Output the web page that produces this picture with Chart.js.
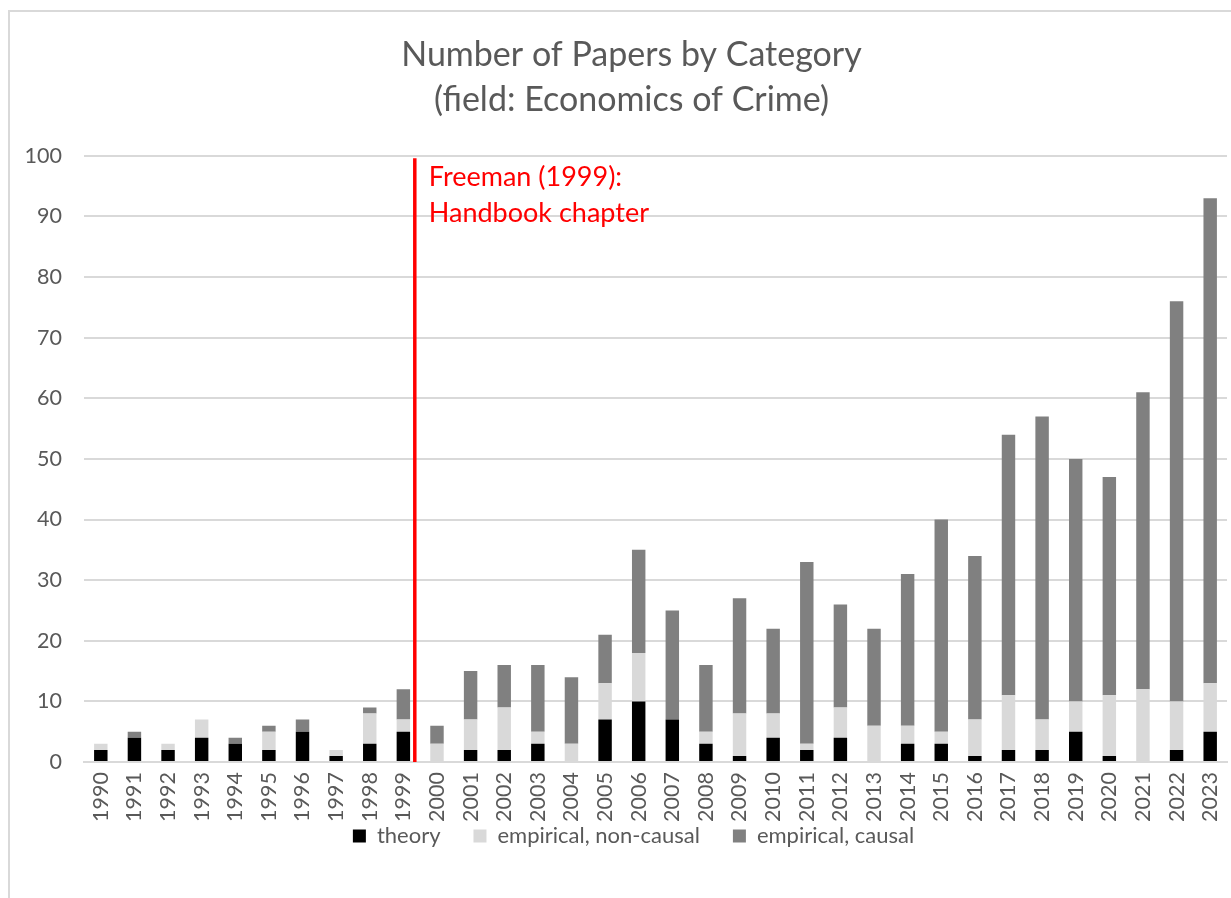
<!DOCTYPE html>
<html>
<head>
<meta charset="utf-8">
<script src="https://cdn.jsdelivr.net/npm/chart.js@4.4.1/dist/chart.umd.min.js"></script>
<style>
  html, body { margin: 0; padding: 0; background: #fff; overflow: hidden; }
  #frame {
    position: absolute; left: 8px; top: 10px; width: 1290px; height: 900px;
    border-left: 2px solid #d9d9d9; border-top: 2px solid #d9d9d9;
  }
  #wrap { position: absolute; left: 0; top: 0; width: 1244px; height: 886px; }
</style>
</head>
<body>
<div id="frame"><div id="wrap"><canvas id="papersChart"></canvas></div></div>
<script>
const years = ['1990','1991','1992','1993','1994','1995','1996','1997','1998','1999',
    '2000','2001','2002','2003','2004','2005','2006','2007','2008','2009',
    '2010','2011','2012','2013','2014','2015','2016','2017','2018','2019',
    '2020','2021','2022','2023'];

const theory       = [2,4,2,4,3,2,5,1,3,5, 0,2,2,3,0,7,10,7,3,1, 4,2,4,0,3,3,1,2,2,5, 1,0,2,5];
const nonCausal    = [1,0,1,3,0,3,0,1,5,2, 3,5,7,2,3,6,8,0,2,7, 4,1,5,6,3,2,6,9,5,5, 10,12,8,8];
const causal       = [0,1,0,0,1,1,2,0,1,5, 3,8,7,11,11,8,17,18,11,19, 14,30,17,16,25,35,27,43,50,40, 36,49,66,80];

const yTicks = [0,10,20,30,40,50,60,70,80,90,100];

// marker after the 1999 bar
const markerYear = '1999';
const markerOffset = 0.34;   // in category widths past the 1999 bar centre
const markerLines = ['Freeman (1999):', 'Handbook chapter'];

const textColor = '#595959';
const fontFamily = 'Lato, "Open Sans", sans-serif';
const tickFont = { family: fontFamily, size: 21.5 };

const markerPlugin = {
    id: 'markerLine',
    afterDatasetsDraw(chart) {
        const { ctx, scales: { x, y } } = chart;
        const idx = years.indexOf(markerYear);
        const step = x.getPixelForValue(idx + 1) - x.getPixelForValue(idx);
        const px = x.getPixelForValue(idx) + step * markerOffset;
        const top = y.getPixelForValue(99.6);
        const bottom = y.getPixelForValue(0);
        ctx.save();
        ctx.strokeStyle = '#ff0000';
        ctx.lineWidth = 3.5;
        ctx.beginPath();
        ctx.moveTo(px, top);
        ctx.lineTo(px, bottom);
        ctx.stroke();
        ctx.fillStyle = '#ff0000';
        ctx.font = '27px ' + fontFamily;
        ctx.textBaseline = 'alphabetic';
        markerLines.forEach((line, i) => ctx.fillText(line, px + 14, top + 28 + i * 36));
        ctx.restore();
    }
};

// nudge title and legend: Excel centres them on the whole frame, and the
// legend sits closer to the year labels than Chart.js would put it
const boxShift = {
    id: 'boxShift',
    afterLayout(chart) {
        const t = chart.titleBlock, lg = chart.legend;
        if (t) { t.left += 13; t.right += 13; }
        if (lg) {
            lg.left += 15; lg.right += 15;
            lg.top -= 38; lg.bottom -= 38;
        }
    }
};

const ctx = document.getElementById('papersChart').getContext('2d');
new Chart(ctx, {
    type: 'bar',
    data: {
        labels: years,
        datasets: [
            { label: 'theory', data: theory, backgroundColor: '#000000' },
            { label: 'empirical, non-causal', data: nonCausal, backgroundColor: '#d9d9d9' },
            { label: 'empirical, causal', data: causal, backgroundColor: '#808080' }
        ]
    },
    options: {
        responsive: true,
        maintainAspectRatio: false,
        animation: false,
        datasets: { bar: { barPercentage: 0.4, categoryPercentage: 1.0 } },
        layout: { padding: { left: 0, right: 27, top: 0, bottom: 3 } },
        plugins: {
            title: {
                display: true,
                text: ['Number of Papers by Category', '(field: Economics of Crime)'],
                color: textColor,
                font: { family: fontFamily, size: 34, weight: 'normal', lineHeight: 1.32 },
                padding: { top: 21, bottom: 33 }
            },
            legend: {
                position: 'bottom',
                labels: {
                    color: textColor,
                    font: { family: fontFamily, size: 22 },
                    boxWidth: 13,
                    boxHeight: 13,
                    padding: 33
                }
            },
            tooltip: { enabled: false }
        },
        scales: {
            x: {
                stacked: true,
                afterFit(scale) { scale.height = 68; },
                grid: { display: false, drawTicks: false },
                border: { color: '#d9d9d9', width: 2 },
                ticks: {
                    color: textColor,
                    font: tickFont,
                    minRotation: 90,
                    maxRotation: 90,
                    autoSkip: false,
                    padding: 10
                }
            },
            y: {
                stacked: true,
                min: 0,
                max: 100,
                afterFit(scale) { scale.width = 74; },
                afterBuildTicks(scale) { scale.ticks = yTicks.map(v => ({ value: v })); },
                grid: { color: '#d9d9d9', lineWidth: 2, drawTicks: false },
                border: { display: false },
                ticks: {
                    color: textColor,
                    font: tickFont,
                    padding: 22
                }
            }
        }
    },
    plugins: [markerPlugin, boxShift]
});
</script>
</body>
</html>
